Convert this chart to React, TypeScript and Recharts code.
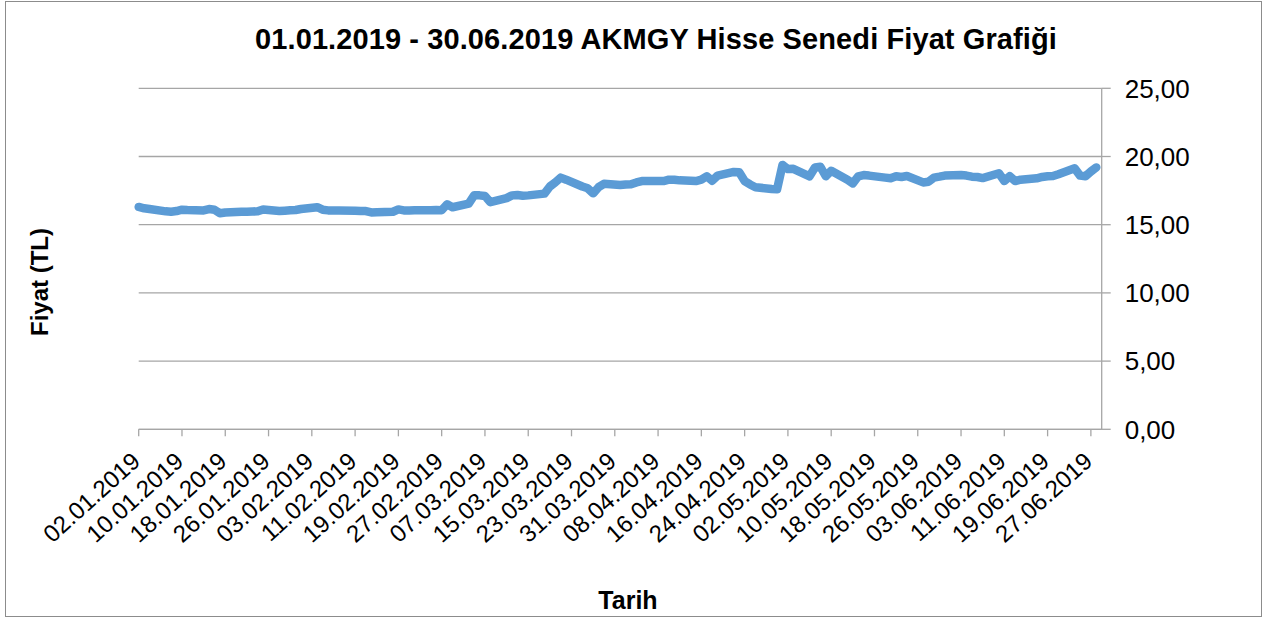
import { LineChart, Line, XAxis, YAxis, CartesianGrid } from 'recharts'

const dates = [
  '02.01.2019', '03.01.2019', '04.01.2019', '07.01.2019', '08.01.2019', '09.01.2019', '10.01.2019', '11.01.2019',
  '14.01.2019', '15.01.2019', '16.01.2019', '17.01.2019', '18.01.2019', '21.01.2019', '22.01.2019', '23.01.2019',
  '24.01.2019', '25.01.2019', '28.01.2019', '29.01.2019', '30.01.2019', '31.01.2019',
  '01.02.2019', '04.02.2019', '05.02.2019', '06.02.2019', '07.02.2019', '08.02.2019', '11.02.2019', '12.02.2019',
  '13.02.2019', '14.02.2019', '15.02.2019', '18.02.2019', '19.02.2019', '20.02.2019', '21.02.2019', '22.02.2019',
  '25.02.2019', '26.02.2019', '27.02.2019', '28.02.2019',
  '01.03.2019', '04.03.2019', '05.03.2019', '06.03.2019', '07.03.2019', '08.03.2019', '11.03.2019', '12.03.2019',
  '13.03.2019', '14.03.2019', '15.03.2019', '18.03.2019', '19.03.2019', '20.03.2019', '21.03.2019', '22.03.2019',
  '25.03.2019', '26.03.2019', '27.03.2019', '28.03.2019', '29.03.2019',
  '01.04.2019', '02.04.2019', '03.04.2019', '04.04.2019', '05.04.2019', '08.04.2019', '09.04.2019', '10.04.2019',
  '11.04.2019', '12.04.2019', '15.04.2019', '16.04.2019', '17.04.2019', '18.04.2019', '19.04.2019', '22.04.2019',
  '23.04.2019', '24.04.2019', '25.04.2019', '26.04.2019', '29.04.2019', '30.04.2019',
  '01.05.2019', '02.05.2019', '03.05.2019', '06.05.2019', '07.05.2019', '08.05.2019', '09.05.2019', '10.05.2019',
  '13.05.2019', '14.05.2019', '15.05.2019', '16.05.2019', '17.05.2019', '20.05.2019', '21.05.2019', '22.05.2019',
  '23.05.2019', '24.05.2019', '27.05.2019', '28.05.2019', '29.05.2019', '30.05.2019', '31.05.2019',
  '03.06.2019', '04.06.2019', '05.06.2019', '06.06.2019', '07.06.2019', '10.06.2019', '11.06.2019', '12.06.2019',
  '13.06.2019', '14.06.2019', '17.06.2019', '18.06.2019', '19.06.2019', '20.06.2019', '21.06.2019', '24.06.2019',
  '25.06.2019', '26.06.2019', '27.06.2019', '28.06.2019',
]

const prices = [
  16.3, 16.2, 16.15, 15.98, 15.95, 16.0, 16.1, 16.08,
  16.05, 16.15, 16.1, 15.84, 15.9, 15.95, 15.95, 15.97,
  15.98, 16.12, 16.0, 16.03, 16.06, 16.08,
  16.15, 16.28, 16.1, 16.05, 16.05, 16.05, 16.03, 16.0,
  16.0, 15.9, 15.92, 15.95, 16.12, 16.05, 16.05, 16.06,
  16.06, 16.08, 16.06, 16.5,
  16.28, 16.55, 17.15, 17.15, 17.1, 16.65, 16.95, 17.15,
  17.18, 17.12, 17.15, 17.28, 17.8, 18.1, 18.45, 18.3,
  17.8, 17.67, 17.3, 17.75, 18.0,
  17.91, 17.95, 17.96, 18.1, 18.2, 18.2, 18.2, 18.3,
  18.3, 18.25, 18.2, 18.3, 18.55, 18.22, 18.6, 18.87,
  18.85, 18.2, 17.95, 17.75, 17.62, 17.6,
  19.38, 19.08, 19.1, 18.55, 19.2, 19.25, 18.55, 18.95,
  18.3, 18.03, 18.55, 18.64, 18.6, 18.45, 18.4, 18.55,
  18.5, 18.57, 18.1, 18.15, 18.45, 18.52, 18.6,
  18.64, 18.6, 18.52, 18.5, 18.42, 18.77, 18.2, 18.55,
  18.2, 18.3, 18.4, 18.5, 18.55, 18.57, 18.7, 19.13,
  18.6, 18.55, 18.9, 19.2,
]

const tickLabels = [
  '02.01.2019', '10.01.2019', '18.01.2019', '26.01.2019', '03.02.2019', '11.02.2019', '19.02.2019', '27.02.2019',
  '07.03.2019', '15.03.2019', '23.03.2019', '31.03.2019', '08.04.2019', '16.04.2019', '24.04.2019', '02.05.2019',
  '10.05.2019', '18.05.2019', '26.05.2019', '03.06.2019', '11.06.2019', '19.06.2019', '27.06.2019',
]

const yTicks = [0, 5, 10, 15, 20, 25]

// day number counted from the first date, so the x axis behaves like a date axis
const toDay = (s: string) => {
  const [d, m, y] = s.split('.').map(Number)
  return Math.round(Date.UTC(y, m - 1, d) / 86400000)
}
const day0 = toDay(dates[0])
const tickDays = tickLabels.map((t) => toDay(t) - day0)
const labelByDay: Record<number, string> = {}
tickLabels.forEach((t, i) => (labelByDay[tickDays[i]] = t))

const data = dates.map((d, i) => ({ day: toDay(d) - day0, price: prices[i] }))

const FONT = '"Liberation Sans", Arial, sans-serif'
const GRID = '#a6a6a6'

function DateTick({ x, y, payload }: any) {
  const ox = x + 3
  const oy = y + 27
  return (
    <text
      x={ox}
      y={oy}
      transform={`rotate(-42 ${ox} ${oy})`}
      textAnchor="end"
      fontSize={24}
      fontFamily={FONT}
      fill="#000"
    >
      {labelByDay[payload.value]}
    </text>
  )
}

export default function App() {
  return (
    <div style={{ position: 'absolute', left: 0, top: 0, width: 1274, height: 619, background: '#fff', fontFamily: FONT }}>
      <div
        style={{
          position: 'absolute',
          left: 5,
          top: 1,
          width: 1255,
          height: 614,
          border: '1px solid #8c8c8c',
        }}
      />
      <div
        style={{
          position: 'absolute',
          left: 0,
          top: 23,
          width: 1312,
          textAlign: 'center',
          fontSize: 29,
          fontWeight: 'bold',
          color: '#000',
          letterSpacing: 0.1,
        }}
      >
        01.01.2019 - 30.06.2019 AKMGY Hisse Senedi Fiyat Grafiği
      </div>
      <div
        style={{
          position: 'absolute',
          left: 40,
          top: 282,
          transform: 'translate(-50%, -50%) rotate(-90deg)',
          fontSize: 24,
          fontWeight: 'bold',
          whiteSpace: 'nowrap',
        }}
      >
        Fiyat (TL)
      </div>
      <div
        style={{
          position: 'absolute',
          left: 628,
          top: 600,
          transform: 'translate(-50%, -50%)',
          fontSize: 25,
          fontWeight: 'bold',
        }}
      >
        Tarih
      </div>
      <div style={{ position: 'absolute', left: 0, top: 0 }}>
        <LineChart
          width={1274}
          height={619}
          data={data}
          margin={{ top: 88.3, right: 22.3, bottom: 69.7, left: 138.7 }}
        >
          <CartesianGrid vertical={false} stroke={GRID} strokeWidth={1.3} />
          <XAxis
            dataKey="day"
            type="number"
            domain={[0, 178]}
            ticks={tickDays}
            interval={0}
            height={120}
            tickSize={7}
            tickMargin={0}
            stroke={GRID}
            strokeWidth={1.3}
            tick={<DateTick />}
          />
          <YAxis
            orientation="right"
            domain={[0, 25]}
            ticks={yTicks}
            width={150}
            tickSize={9}
            tickMargin={14}
            stroke={GRID}
            strokeWidth={1.3}
            tick={{ fill: '#000', fontSize: 26, fontFamily: FONT }}
            tickFormatter={(v: number) => v.toFixed(2).replace('.', ',')}
          />
          <Line
            dataKey="price"
            type="linear"
            stroke="#5b9bd5"
            strokeWidth={8.5}
            strokeLinejoin="round"
            strokeLinecap="round"
            dot={false}
            isAnimationActive={false}
          />
        </LineChart>
      </div>
    </div>
  )
}
